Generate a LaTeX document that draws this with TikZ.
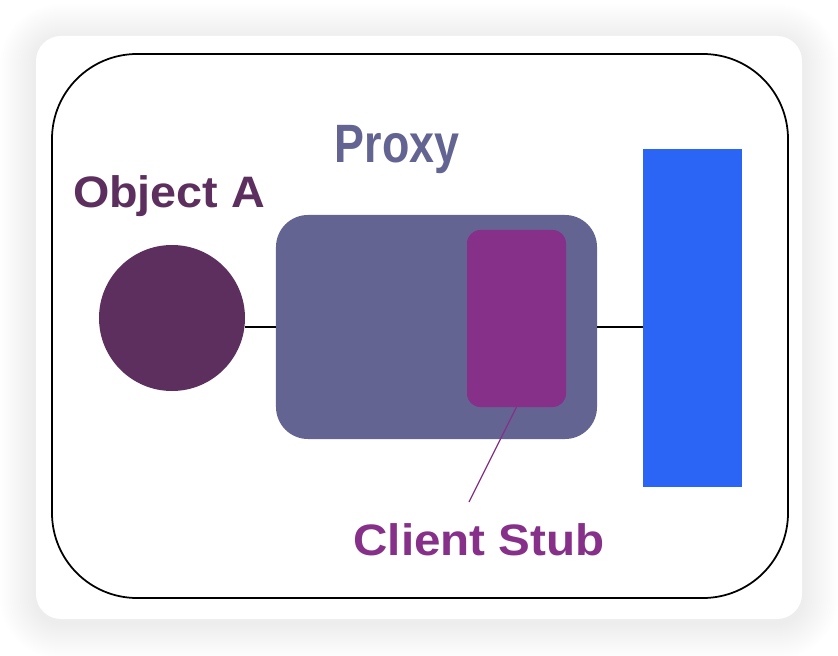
\documentclass[tikz,border=0pt]{standalone}
\usepackage{fontspec}
\setmainfont{Liberation Sans}
\usepackage{graphicx}
\usetikzlibrary{positioning}

\definecolor{objcol}{HTML}{5C2F5E}
\definecolor{proxycol}{HTML}{646493}
\definecolor{stubcol}{HTML}{86308A}
\definecolor{bluecol}{HTML}{2B65F5}

\begin{document}
\begin{tikzpicture}[x=0.03cm, y=-0.03cm,
    block/.style={inner sep=0pt, outer sep=0pt},
    tag/.style={font=\bfseries\fontsize{37.6}{45}\selectfont, anchor=base, inner sep=0pt}]
    \useasboundingbox (0,0) rectangle (838,656);

    % card with soft shadow
    \foreach \i in {1,...,18} {
        \pgfmathsetmacro\rr{(25+2*\i)*0.03}
        \fill[black, opacity=0.005, rounded corners=\rr cm] (36-2*\i,40-2*\i) rectangle (802+2*\i,623+2*\i);
    }
    \fill[white, rounded corners=0.75cm] (36,36) rectangle (802,619);
    \draw[line width=1.5pt, rounded corners=2.55cm] (52,54) rectangle (788,598);

    \node[block, circle, fill=objcol, minimum size=4.38cm] (obja) at (172,318) {};
    \node[block, fill=proxycol, rounded corners=0.96cm, minimum width=9.63cm, minimum height=6.72cm] (proxy) at (436.5,327) {};
    \node[block, fill=stubcol, rounded corners=0.4cm, minimum width=2.97cm, minimum height=5.31cm] (stub) at (516.5,318.5) {};
    \node[block, fill=bluecol, minimum width=2.97cm, minimum height=10.14cm] (server) at (692.5,318) {};

    \node[tag, text=objcol] (objalabel) at (169,208) {\scalebox{1.06}[1]{Object A}};
    \node[tag, text=proxycol] (proxylabel) at (397,163) {\scalebox{0.83}[1]{\fontsize{46.1}{55}\selectfont Proxy}};
    \node[tag, text=stubcol] (stublabel) at (479,555) {\scalebox{1.08}[1]{Client Stub}};

    \coordinate (stubtip) at (469,502);

    \draw[line width=1.2pt] (proxy.west) -- (proxy.west -| obja.east);
    \draw[line width=1.2pt] (proxy.east) -- (proxy.east -| server.west);
    \draw[stubcol, line width=1pt] (stub.south) -- (stubtip);
\end{tikzpicture}
\end{document}
